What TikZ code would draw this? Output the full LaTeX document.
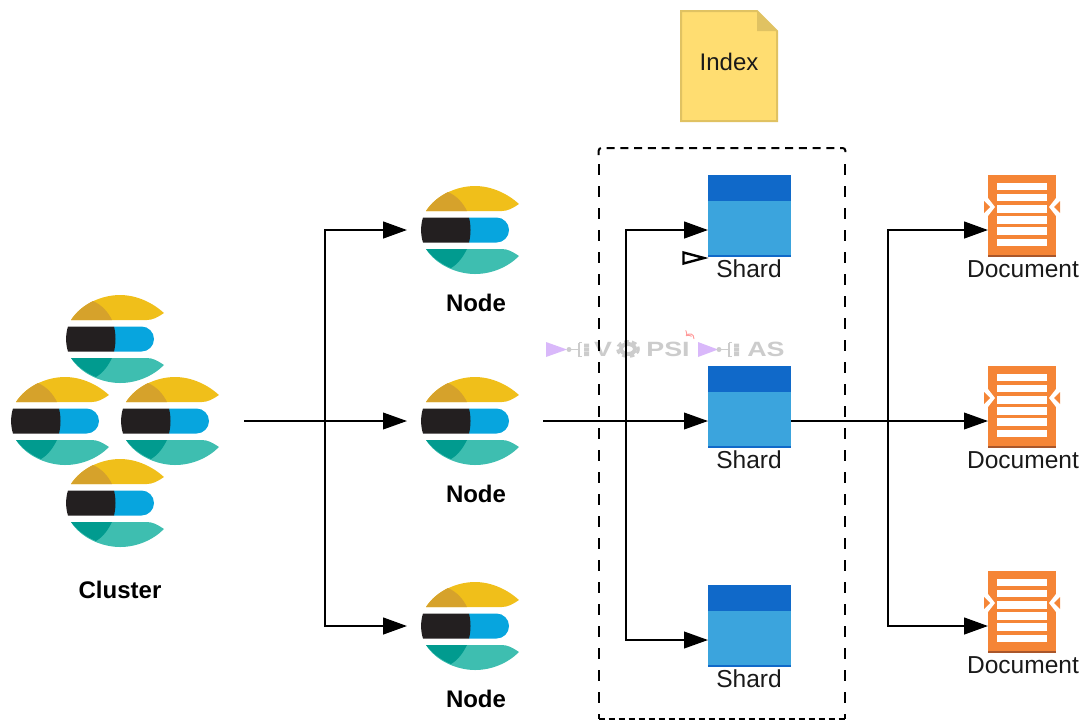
\documentclass[tikz,border=0pt]{standalone}
\usepackage{fontspec}
\setmainfont{Liberation Sans}
\usetikzlibrary{arrows.meta,calc}
\definecolor{ylw}{HTML}{F0BF1A}
\definecolor{ylwd}{HTML}{D6A22B}
\definecolor{tl}{HTML}{3EBEB0}
\definecolor{tld}{HTML}{019B8F}
\definecolor{blk}{HTML}{231F20}
\definecolor{blu}{HTML}{07A5DE}
\definecolor{shtop}{HTML}{1069C9}
\definecolor{shbody}{HTML}{3BA4DD}
\definecolor{org}{HTML}{F58536}
\definecolor{orgd}{HTML}{A9562A}
\definecolor{idx}{HTML}{FFDD71}
\definecolor{idxd}{HTML}{E0C262}
\definecolor{wmg}{HTML}{CCCCCC}
\definecolor{wmp}{HTML}{D9B8FA}
\tikzset{
  x=0.75pt,y=-0.75pt,
  logobox/.style={minimum width=102pt,minimum height=66pt,inner sep=0pt,outer sep=0pt},
  clusterbox/.style={minimum width=186pt,minimum height=66pt,inner sep=0pt,outer sep=0pt},
  framebox/.style={minimum width=185pt,minimum height=428.25pt,inner sep=0pt,outer sep=0pt},
  shardbox/.style={minimum width=62.25pt,minimum height=61.5pt,inner sep=0pt,outer sep=0pt},
  docbox/.style={minimum width=51pt,minimum height=61.5pt,inner sep=0pt,outer sep=0pt},
  flow/.style={line width=1.8pt,-{Triangle[length=18pt,width=12.5pt]}},
  flowthin/.style={line width=1.3pt,-{Triangle[length=18pt,width=12.5pt]}},
  lab/.style={font=\fontsize{18.4pt}{20pt}\selectfont,text=black!90,inner sep=0pt},
  blab/.style={font=\fontsize{18pt}{20pt}\selectfont\bfseries,text=black,inner sep=0pt},
  wm/.style={font=\fontsize{15.5pt}{16pt}\selectfont\bfseries,text=wmg,inner sep=0pt,xscale=1.3},
}
\newcommand{\esmark}[2]{%
  \begin{scope}[shift={(#1,#2)}]
    \fill[ylw] (-49,-19) .. controls (-39,-35) and (-18,-44) .. (0,-44) .. controls (17,-44) and (33,-36) .. (44,-26) .. controls (38,-22) and (33,-19) .. (27,-19) -- cycle;
    \fill[ylwd] (-49,-19) .. controls (-43,-28) and (-35,-34) .. (-27,-38) .. controls (-18,-34) and (-12,-27) .. (-8,-19) -- cycle;
    \fill[tl] (-49,19) -- (27,19) .. controls (33,19) and (38,22) .. (44,26) .. controls (33,37) and (17,44) .. (0,44) .. controls (-18,44) and (-39,35) .. (-49,19) -- cycle;
    \fill[tld] (-49,19) -- (-8,19) .. controls (-12,27) and (-17,34) .. (-24,38) .. controls (-34,34) and (-43,27) .. (-49,19) -- cycle;
    \fill[blu] (-6,-12.5) -- (21.5,-12.5) arc[start angle=-90,end angle=90,radius=12.5] -- (-6,12.5) -- cycle;
    \fill[blk] (-52,-12.5) -- (-6,-12.5) .. controls (-4,-5) and (-4,5) .. (-6,12.5) -- (-52,12.5) .. controls (-54.5,5) and (-54.5,-5) .. (-52,-12.5) -- cycle;
  \end{scope}}
\newcommand{\shardshape}[1]{%
  \fill[shbody] (#1.north west) rectangle (#1.south east);
  \fill[shtop] (#1.north west) rectangle ($(#1.north east)+(0,26)$);
  \fill[shtop] ($(#1.south west)+(0,-2.5)$) rectangle (#1.south east);}
\newcommand{\docshape}[1]{%
  \begin{scope}[shift={(#1.center)}]
    \fill[org] (-34,-41) rectangle (34,41);
    \fill[orgd] (-34,38.5) rectangle (34,41);
    \foreach \k in {0,...,5} {\fill[white] (-25,-33+\k*11.1) rectangle (25,-25.7+\k*11.1);}
    \fill[white] (-34,-18) -- (-27,-9) -- (-34,0) -- cycle;
    \fill[org] (-38,-15) -- (-32,-9) -- (-38,-3) -- cycle;
    \fill[white] (34,-18) -- (27,-9) -- (34,0) -- cycle;
    \fill[org] (38,-15) -- (32,-9) -- (38,-3) -- cycle;
  \end{scope}}
\newcommand{\wmglyph}[1]{%
  \begin{scope}[shift={(#1,349.5)}]
    \draw[wmg,line width=0.9pt] (-10,0) -- (0,0);
    \fill[wmg] (-10,0) circle[radius=2.5];
    \draw[wmg,line width=1pt] (0,-7) -- (0,7) (0,-7) -- (3,-7) (0,7) -- (3,7);
    \fill[wmg] (5,-6) rectangle (10,-2) (5,-1.5) rectangle (10,2) (5,2.5) rectangle (10,6.5);
  \end{scope}}
\begin{document}
\begin{tikzpicture}
\useasboundingbox (0,0) rectangle (1084,722);
% watermark
\fill[wmp] (546,342) -- (567,349.5) -- (546,357) -- cycle;
\wmglyph{579}
\node[wm] (wmv) at (603,349) {V};
\draw[wmg,line width=3pt] (628,349) ellipse[x radius=7,y radius=5];
\draw[wmg,line width=2.2pt,dash pattern=on 3.4pt off 2.4pt] (628,349) ellipse[x radius=10.5,y radius=7.5];
\node[wm] (wmpsi) at (668,349) {PSI};
\draw[red!40,line width=0.7pt,->] (694,339) .. controls (694,333) and (689,333) .. (686,336);
\fill[wmp] (698,342) -- (718,349.5) -- (698,357) -- cycle;
\wmglyph{729}
\node[wm] (wmas) at (766,349) {AS};
% index
\fill[idx,draw=idxd,line width=1.5pt] (681,11) -- (757,11) -- (777,31) -- (777,121) -- (681,121) -- cycle;
\fill[idxd] (757,11) -- (777,31) -- (757,31) -- cycle;
\node[lab,font=\fontsize{18pt}{20pt}\selectfont] (index) at (729,62) {Index};
% dashed frame
\node[framebox] (frame) at (722,433.5) {};
\draw[line width=1.5pt,dash pattern=on 6pt off 4.3pt,rounded corners=2pt] ($(frame.north west)+(0,7)$) |- ($(frame.north east)$) -- ++(0,7);
\draw[line width=1.5pt,dash pattern=on 8pt off 8.5pt] ($(frame.north west)+(0,16)$) -- (frame.south west);
\draw[line width=1.5pt,dash pattern=on 8pt off 8.5pt] ($(frame.north east)+(0,16)$) -- (frame.south east);
\draw[line width=1.5pt,dash pattern=on 4.5pt off 3pt] (frame.south west) -- (frame.south east);
% logos
\node[clusterbox] (cluster) at (120,421) {};
\esmark{120}{339}
\esmark{65}{421}
\esmark{175}{421}
\esmark{120}{503}
\node[blab] (clusterlab) at (120,590) {Cluster};
\node[logobox] (n1) at (475,230) {}; \esmark{475}{230}
\node[logobox] (n2) at (475,421) {}; \esmark{475}{421}
\node[logobox] (n3) at (475,626) {}; \esmark{475}{626}
\node[blab] (n1lab) at (476,303) {Node};
\node[blab] (n2lab) at (476,494) {Node};
\node[blab] (n3lab) at (476,699) {Node};
% shards
\node[shardbox] (s1) at (749.5,216) {}; \shardshape{s1}
\node[shardbox] (s2) at (749.5,407) {}; \shardshape{s2}
\node[shardbox] (s3) at (749.5,626) {}; \shardshape{s3}
\node[lab] (s1lab) at (749,269) {Shard};
\node[lab] (s2lab) at (749,460) {Shard};
\node[lab] (s3lab) at (749,679) {Shard};
\draw[black,fill=white,line width=1.8pt] (683.5,252.5) -- (704,258) -- (683.5,263.5) -- cycle;
% documents
\node[docbox] (d1) at (1022,216) {}; \docshape{d1}
\node[docbox] (d2) at (1022,407) {}; \docshape{d2}
\node[docbox] (d3) at (1022,612) {}; \docshape{d3}
\node[lab] (d1lab) at (1023,269) {Document};
\node[lab] (d2lab) at (1023,460) {Document};
\node[lab] (d3lab) at (1023,665) {Document};
% connectors
\coordinate (j1) at (325,421);
\coordinate (j2) at (626,421);
\coordinate (j3) at (888,421);
\draw[flowthin] (cluster.east) -- (n2.west);
\draw[flow] (j1) |- (n1.west);
\draw[flow] (j1) |- (n3.west);
\draw[flowthin] (n2.east) -- ([yshift=-10.5pt]s2.west);
\draw[flow] (j2) |- ([yshift=-10.5pt]s1.west);
\draw[flow,line width=1.5pt] (j2) |- ([yshift=-10.5pt]s3.west);
\draw[flowthin] ([yshift=-10.5pt]s2.east) -- ([yshift=-10.5pt]d2.west);
\draw[flow] (j3) |- ([yshift=-10.5pt]d1.west);
\draw[flow] (j3) |- ([yshift=-10.5pt]d3.west);
\end{tikzpicture}
\end{document}
